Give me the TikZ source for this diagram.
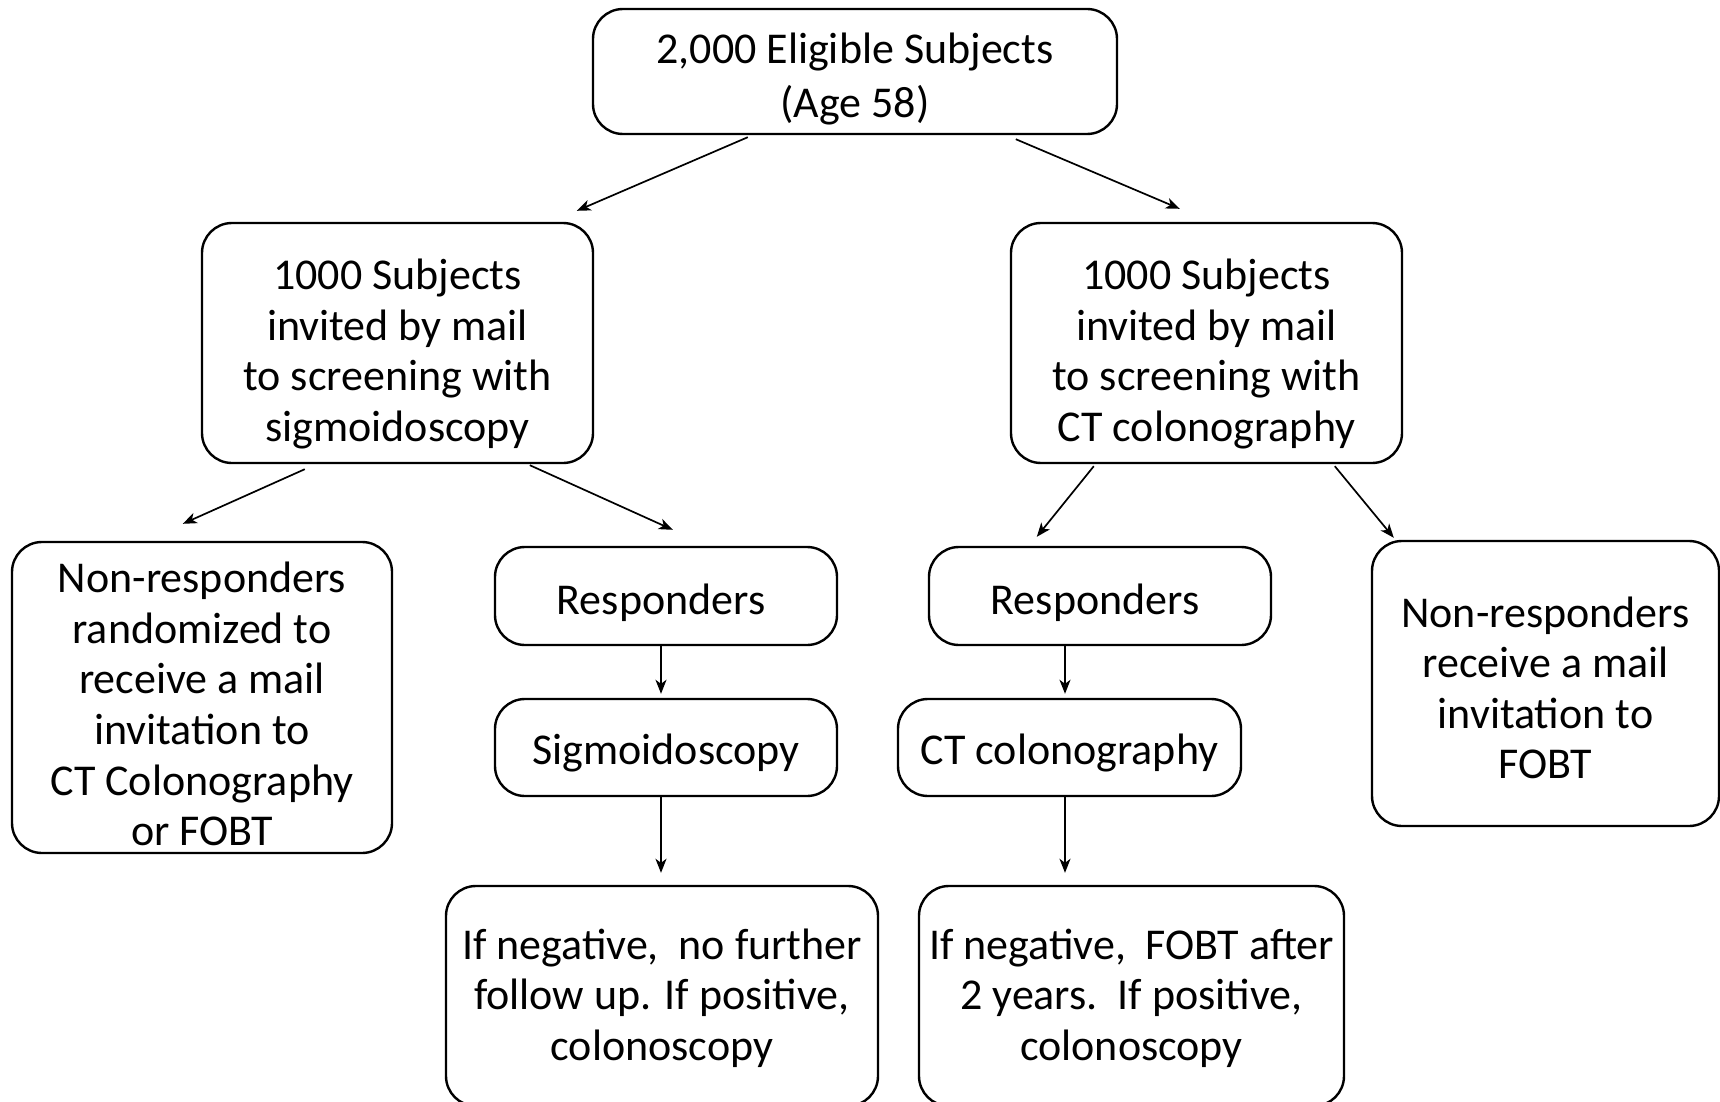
\documentclass[tikz,border=0pt]{standalone}
\usepackage{fontspec}
\setmainfont{Carlito}
\usetikzlibrary{arrows.meta,calc}
\newcommand\dnshift[1]{\rule{0pt}{\dimexpr\fontcharht\font`l+2\dimexpr#1\relax\relax}}
\tikzset{
  box/.style={draw, line width=1.2pt, rounded corners=15pt, align=center, inner sep=0pt,
    font=\fontsize{22}{25.3}\selectfont},
  conn/.style={line width=0.85pt, -{Stealth[length=7pt,width=5.5pt,inset=2pt]}}
}
\begin{document}
\begin{tikzpicture}[x=0.5pt,y=-0.5pt]
\useasboundingbox (0,0) rectangle (1720,1102);
\node[box, minimum width=262pt, minimum height=62.5pt, font=\fontsize{22}{27}\selectfont] (top) at (855,71.5) {\dnshift{3.8pt}2,000 Eligible Subjects\\(Age 58)};
\node[box, minimum width=195.5pt, minimum height=120pt] (lmid) at (397.5,343) {\dnshift{5.5pt}1000 Subjects\\invited by mail\\to screening with\\sigmoidoscopy};
\node[box, minimum width=195.5pt, minimum height=120pt] (rmid) at (1206.5,343) {\dnshift{5.5pt}1000 Subjects\\invited by mail\\to screening with\\CT colonography};
\node[box, minimum width=190pt, minimum height=155.5pt] (nrl) at (202,697.5) {\dnshift{3.3pt}Non-responders\\randomized to\\receive a mail\\invitation to\\CT Colonography\\or FOBT};
\node[box, minimum width=171pt, minimum height=49pt] (respl) at (666,596) {\dnshift{3.3pt}Responders\kern5pt};
\node[box, minimum width=171pt, minimum height=48.5pt] (sigm) at (666,747.5) {\dnshift{2.7pt}Sigmoidoscopy};
\node[box, minimum width=216pt, minimum height=110pt] (botl) at (662,996) {\dnshift{1.1pt}If negative,\ \ no further\\follow up. If positive,\\colonoscopy};
\node[box, minimum width=171pt, minimum height=49pt] (respr) at (1100,596) {\dnshift{3.3pt}Responders\kern5pt};
\node[box, minimum width=171.5pt, minimum height=48.5pt] (ct) at (1069.5,747.5) {\dnshift{2.7pt}CT colonography};
\node[box, minimum width=212.5pt, minimum height=110pt] (botr) at (1131.5,996) {\dnshift{1.1pt}If negative,\ \ FOBT after\\2 years.\ \ If positive,\\colonoscopy};
\node[box, minimum width=173.5pt, minimum height=142.5pt] (nrr) at (1545.5,683.5) {\dnshift{2.2pt}Non-responders\\receive a mail\\invitation to\\FOBT};
\draw[conn] ($(top.south west)+(156,2)$) -- ($(lmid.north west)+(376,-11)$);
\draw[conn] ($(top.south west)+(424,4)$) -- ($(rmid.north west)+(170,-13)$);
\draw[conn] ($(lmid.south west)+(104,5)$) -- ($(nrl.north west)+(172,-17)$);
\draw[conn] ($(lmid.south west)+(329,1)$) -- ($(respl.north west)+(179,-16)$);
\draw[conn] ($(rmid.south west)+(84,2)$) -- ($(respr.north west)+(109,-9)$);
\draw[conn] ($(rmid.south west)+(325,2)$) -- ($(nrr.north west)+(23,-2)$);
\draw[conn] ($(respl.south)+(-5,0)$) -- ($(sigm.north)+(-5,-4)$);
\draw[conn] ($(sigm.south)+(-5,0)$) -- ($(botl.north)+(-1,-12)$);
\draw[conn] ($(respr.south)+(-35,0)$) -- ($(ct.north)+(-4.5,-4)$);
\draw[conn] ($(ct.south)+(-4.5,0)$) -- ($(botr.north)+(-66.5,-12)$);
\end{tikzpicture}
\end{document}
